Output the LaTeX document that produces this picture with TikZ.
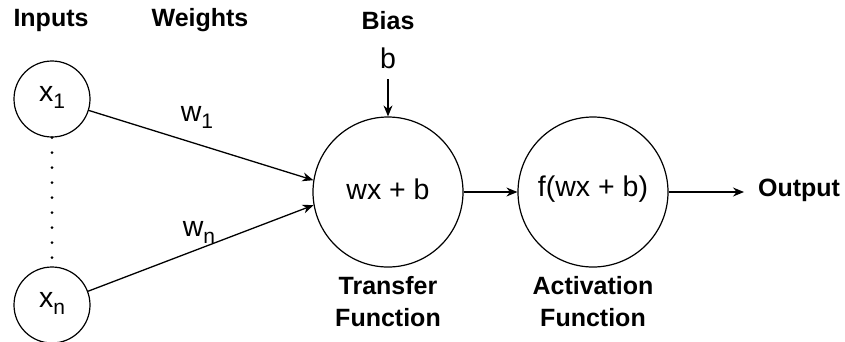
\documentclass[tikz,border=0pt]{standalone}
\usepackage{fontspec}
\setmainfont{Liberation Sans}
\usetikzlibrary{arrows.meta}
\begin{document}
\begin{tikzpicture}[x=1pt,y=-1pt,
  neuron/.style={draw,circle,line width=1.2pt,inner sep=0pt},
  txt/.style={font=\fontsize{28.5}{32}\selectfont,inner sep=0pt},
  hdr/.style={font=\fontsize{25}{32}\selectfont\bfseries,inner sep=0pt,align=center},
  conn/.style={line width=1.3pt,-{Stealth[length=11pt,width=9pt]}},
  plain/.style={line width=1.3pt}]
\useasboundingbox (0,0) rectangle (845,341);
\newcommand{\sbs}[1]{\raisebox{-7pt}{\fontsize{21}{21}\selectfont #1}}
% headers
\node[hdr] (hin) at (51,20) {Inputs};
\node[hdr] (hw) at (200,20) {Weights};
\node[hdr] (hb) at (388,21) {Bias};
% nodes
\node[neuron,minimum size=76pt] (x1) at (52,99) {};
\node[txt] at (52,97) {x\sbs{1}};
\node[neuron,minimum size=76pt] (xn) at (52,305) {};
\node[txt] at (52,303) {x\sbs{n}};
\node[neuron,minimum size=150pt] (tf) at (388,192) {};
\node[txt] at (388,189) {wx + b};
\node[neuron,minimum size=150pt] (af) at (593,192) {};
\node[txt] at (593,189) {f(wx + b)};
\node[txt] (b) at (388,58) {b};
\node[hdr] (out) at (799,190) {Output};
\node[hdr] (tfl) at (388,302) {Transfer\\Function};
\node[hdr] (afl) at (593,302) {Activation\\Function};
% labels
\node[txt] (w1) at (197,117) {w\sbs{1}};
\node[txt] (wn) at (199,232) {w\sbs{n}};
% connectors
\coordinate (bend) at (388,79);
\coordinate (oend) at (744,192);
\draw[line width=3pt,line cap=round,dash pattern=on 0pt off 15pt] (x1.south) -- (xn.north);
\draw[conn] (x1) -- (tf.171);
\draw[conn] (xn) -- (tf.190);
\draw[conn] (bend) -- (tf.north);
\draw[conn] (tf) -- (af);
\draw[conn] (af.east) -- (oend);
\end{tikzpicture}
\end{document}
